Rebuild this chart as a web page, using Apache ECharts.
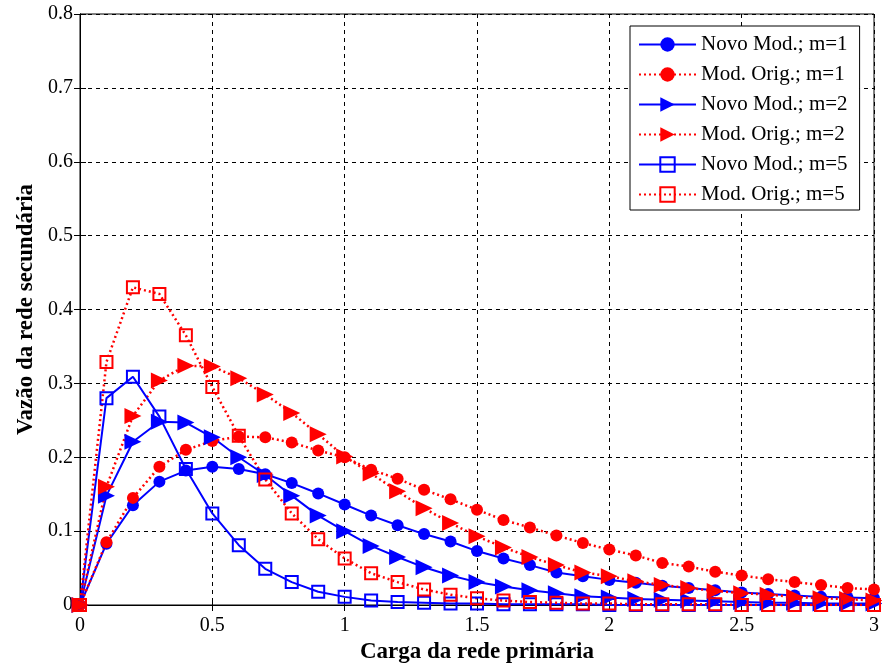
<!DOCTYPE html>
<html>
<head>
<meta charset="utf-8">
<script src="https://cdn.jsdelivr.net/npm/echarts@6/dist/echarts.min.js"></script>
<style>
  html, body { margin: 0; padding: 0; background: #fff; }
  #chart { width: 882px; height: 669px; }
</style>
</head>
<body>
<div id="chart"></div>
<script>
// Carga da rede primária (x)
const carga = [0, 0.1, 0.2, 0.3, 0.4, 0.5, 0.6, 0.7, 0.8, 0.9, 1.0, 1.1, 1.2, 1.3, 1.4, 1.5,
  1.6, 1.7, 1.8, 1.9, 2.0, 2.1, 2.2, 2.3, 2.4, 2.5, 2.6, 2.7, 2.8, 2.9, 3.0];

// Vazão da rede secundária por modelo
const novoM1 = [0, 0.083, 0.135, 0.167, 0.182, 0.187, 0.184, 0.177, 0.165, 0.151, 0.136, 0.121, 0.108, 0.096, 0.086, 0.073,
  0.063, 0.054, 0.044, 0.039, 0.034, 0.030, 0.026, 0.023, 0.020, 0.017, 0.015, 0.013, 0.011, 0.010, 0.009];
const origM1 = [0, 0.085, 0.145, 0.187, 0.210, 0.222, 0.228, 0.227, 0.220, 0.209, 0.200, 0.183, 0.171, 0.156, 0.143, 0.129,
  0.115, 0.105, 0.094, 0.084, 0.075, 0.067, 0.057, 0.052, 0.045, 0.040, 0.035, 0.031, 0.027, 0.023, 0.021];
const novoM2 = [0, 0.148, 0.221, 0.248, 0.247, 0.227, 0.200, 0.176, 0.148, 0.121, 0.100, 0.080, 0.065, 0.051, 0.040, 0.031,
  0.025, 0.020, 0.016, 0.012, 0.010, 0.008, 0.007, 0.006, 0.005, 0.004, 0.003, 0.003, 0.002, 0.002, 0.002];
const origM2 = [0, 0.160, 0.256, 0.304, 0.324, 0.323, 0.307, 0.285, 0.260, 0.231, 0.201, 0.178, 0.154, 0.131, 0.111, 0.093,
  0.078, 0.065, 0.054, 0.044, 0.039, 0.032, 0.027, 0.023, 0.019, 0.016, 0.014, 0.011, 0.009, 0.008, 0.006];
const novoM5 = [0, 0.280, 0.309, 0.255, 0.184, 0.124, 0.081, 0.049, 0.031, 0.018, 0.011, 0.006, 0.004, 0.003, 0.002, 0.002,
  0.001, 0.001, 0.001, 0.001, 0, 0, 0, 0, 0, 0, 0, 0, 0, 0, 0];
const origM5 = [0, 0.329, 0.430, 0.421, 0.365, 0.295, 0.229, 0.170, 0.124, 0.089, 0.063, 0.043, 0.031, 0.021, 0.014, 0.009,
  0.006, 0.004, 0.003, 0.002, 0.002, 0.001, 0.001, 0.001, 0.001, 0, 0, 0, 0, 0, 0];

const seriesNames = ['Novo Mod.; m=1', 'Mod. Orig.; m=1', 'Novo Mod.; m=2', 'Mod. Orig.; m=2', 'Novo Mod.; m=5', 'Mod. Orig.; m=5'];

const BLUE = '#0000ff';
const RED = '#ff0000';
const SERIF = '"Liberation Serif", "DejaVu Serif", serif';

function pairs(ys) { return carga.map((x, i) => [x, ys[i]]); }

function makeSeries(name, ys, color, dotted, marker) {
  const s = {
    name: name,
    type: 'line',
    data: pairs(ys),
    showSymbol: true,
    animation: false,
    lineStyle: { color: color, width: dotted ? 2.5 : 2, type: dotted ? [2, 3] : 'solid' },
    itemStyle: { color: color }
  };
  if (marker === 'circle') {
    s.symbol = 'circle';
    s.symbolSize = 12;
  } else if (marker === 'triangle') {
    s.symbol = 'triangle';
    s.symbolRotate = -90;
    s.symbolSize = [16, 17];
  } else {
    s.symbol = 'rect';
    s.symbolSize = 12;
    s.itemStyle = { color: 'rgba(255,255,255,0)', borderColor: color, borderWidth: 2 };
  }
  return s;
}

const series = [
  makeSeries(seriesNames[0], novoM1, BLUE, false, 'circle'),
  makeSeries(seriesNames[1], origM1, RED, true, 'circle'),
  makeSeries(seriesNames[2], novoM2, BLUE, false, 'triangle'),
  makeSeries(seriesNames[3], origM2, RED, true, 'triangle'),
  makeSeries(seriesNames[4], novoM5, BLUE, false, 'rect'),
  makeSeries(seriesNames[5], origM5, RED, true, 'rect')
];

const gridLine = { show: true, lineStyle: { color: '#000', type: [4, 4], width: 1 } };

const chart = echarts.init(document.getElementById('chart'), null, { renderer: 'canvas' });
chart.setOption({
  backgroundColor: '#fff',
  animation: false,
  grid: {
    left: 80, right: 6, top: 14, bottom: 62,
    show: true, borderColor: '#000', borderWidth: 1, backgroundColor: 'transparent'
  },
  legend: {
    data: seriesNames,
    orient: 'vertical',
    left: 630, top: 26,
    width: 240,
    padding: [8, 12, 5, 8],
    backgroundColor: '#fff',
    borderColor: '#000',
    borderWidth: 1,
    itemWidth: 57,
    itemHeight: 18,
    itemGap: 9,
    textStyle: { fontFamily: SERIF, fontSize: 21, color: '#000' }
  },
  xAxis: [{
    type: 'value', min: 0, max: 3, interval: 0.5,
    name: 'Carga da rede primária', nameLocation: 'middle', nameGap: 36,
    nameTextStyle: { fontFamily: SERIF, fontSize: 23, fontWeight: 'bold', color: '#000' },
    axisLine: { show: true, onZero: false, lineStyle: { color: '#000', width: 1 } },
    axisTick: { show: true, inside: true, length: 6, lineStyle: { color: '#000' } },
    axisLabel: { fontFamily: SERIF, fontSize: 20, color: '#000', margin: 11 },
    splitLine: gridLine
  }, {
    type: 'value', min: 0, max: 3, interval: 0.5, position: 'top',
    axisLine: { show: true, lineStyle: { color: '#000', width: 1 } },
    axisTick: { show: true, inside: true, length: 6, lineStyle: { color: '#000' } },
    axisLabel: { show: false }, splitLine: { show: false }
  }],
  yAxis: [{
    type: 'value', min: 0, max: 0.8, interval: 0.1,
    name: 'Vazão da rede secundária', nameLocation: 'middle', nameGap: 42,
    nameTextStyle: { fontFamily: SERIF, fontSize: 23, fontWeight: 'bold', color: '#000' },
    axisLine: { show: true, onZero: false, lineStyle: { color: '#000', width: 1 } },
    axisTick: { show: true, inside: true, length: 6, lineStyle: { color: '#000' } },
    axisLabel: { fontFamily: SERIF, fontSize: 20, color: '#000', margin: 7,
      formatter: v => (v === 0 ? '0' : v.toFixed(1)) },
    splitLine: gridLine
  }, {
    type: 'value', min: 0, max: 0.8, interval: 0.1, position: 'right',
    axisLine: { show: true, lineStyle: { color: '#000', width: 1 } },
    axisTick: { show: true, inside: true, length: 6, lineStyle: { color: '#000' } },
    axisLabel: { show: false }, splitLine: { show: false }
  }],
  series: series
});
</script>
</body>
</html>
